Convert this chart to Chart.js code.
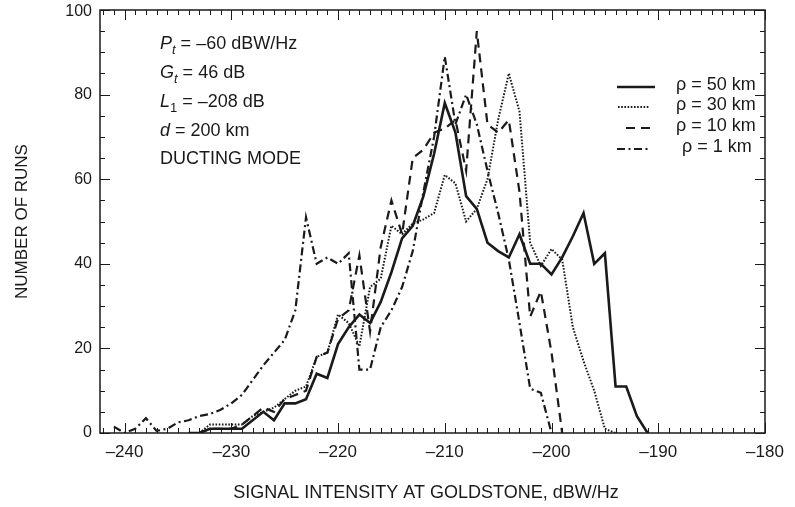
<!DOCTYPE html>
<html>
<head>
    <title>Number of runs vs signal intensity at Goldstone</title>
    <meta charset="UTF-8">
    <script src="https://cdn.jsdelivr.net/npm/chart.js@4.4.0/dist/chart.umd.min.js"></script>
    <style>
        html, body { margin: 0; padding: 0; background: #fff; }
        #wrap { width: 795px; height: 507px; }
    </style>
</head>
<body>
    <div id="wrap"><canvas id="runsChart" width="795" height="507"></canvas></div>

    <script>
        // signal intensity bins (dBW/Hz), one value per 1 dB
        const signalDb = [-242, -241, -240, -239, -238, -237, -236, -235, -234, -233,
                          -232, -231, -230, -229, -228, -227, -226, -225, -224, -223,
                          -222, -221, -220, -219, -218, -217, -216, -215, -214, -213,
                          -212, -211, -210, -209, -208, -207, -206, -205, -204, -203,
                          -202, -201, -200, -199, -198, -197, -196, -195, -194, -193,
                          -192, -191];

        // number of runs per bin (null = no curve there)
        const runs50km = [null, null, null, null, null, null, null, null, 0, 0,
                          1, 1, 1, 1, 3, 5, 3, 7, 7, 8,
                          14, 13, 21, 25, 28, 26, 31, 38, 46, 49,
                          56, 66, 78, 71, 56, 53, 45, 43, 41.5, 47,
                          40, 40, 37.5, 41.5, 46.5, 52, 40, 42.5, 11, 11,
                          4, 0];
        const runs30km = [null, null, null, null, null, null, null, null, null, 0,
                          2, 2, 2, 2, 4, 5, 6, 8, 10, 11,
                          18, 19, 28, 26, 20.5, 34.5, 36.5, 49, 47, 49.5,
                          50.5, 52, 61, 59, 50, 53, 60, 74, 85, 76,
                          45, 39.5, 43.5, 41, 25, 17, 10, 1, 0, null,
                          null, null];
        const runs10km = [null, null, null, null, null, null, null, null, null, 0,
                          1, 1, 1, 2, 4, 6, 5, 8, 9, 10,
                          18, 19, 27, 29, 42, 24, 44, 55, 47, 65,
                          67, 71, 72, 74, 62, 95, 73, 71, 74, 57,
                          27.5, 33.5, 19, 0, null, null, null, null, null, null,
                          null, null];
        const runs1km  = [null, 1.5, 0, 1, 3.5, 0.5, 1, 2.5, 3, 4,
                          4.5, 5.5, 7, 9, 12.5, 16, 19, 22, 29, 51,
                          40, 41.5, 40, 42.5, 15, 15, 25, 29, 34.5, 43,
                          57, 70, 89, 73, 80, 73, 62, 52, 41, 26,
                          10.5, 9.5, 0, null, null, null, null, null, null, null,
                          null, null];

        const seriesLabels = ['\u03C1 = 50 km', '\u03C1 = 30 km', '\u03C1 = 10 km', '\u03C1 = 1 km'];

        const xTickLabels = [-240, -230, -220, -210, -200, -190, -180];
        const yTickLabels = [0, 20, 40, 60, 80, 100];

        const FONT = "'Liberation Sans', Arial, Helvetica, sans-serif";
        const INK = '#1a1a1a';

        function toPoints(values) {
            return signalDb
                .map((db, i) => ({ x: db, y: values[i] }))
                .filter(p => p.y !== null);
        }

        // frame, inward tick marks and y labels
        const framePlugin = {
            id: 'frame',
            afterDatasetsDraw(chart) {
                const { ctx, chartArea: a, scales: { x, y } } = chart;
                ctx.save();
                ctx.strokeStyle = INK;
                ctx.lineWidth = 1.5;
                ctx.strokeRect(a.left, a.top, a.right - a.left, a.bottom - a.top);

                ctx.lineWidth = 1;
                ctx.beginPath();
                for (let v = Math.ceil(x.min); v <= x.max; v++) {
                    const px = Math.round(x.getPixelForValue(v)) + 0.5;
                    const len = v % 10 === 0 ? 10 : 5;
                    ctx.moveTo(px, a.bottom); ctx.lineTo(px, a.bottom - len);
                    ctx.moveTo(px, a.top); ctx.lineTo(px, a.top + len);
                }
                for (let v = 0; v <= 100; v += 5) {
                    const py = Math.round(y.getPixelForValue(v)) + 0.5;
                    const len = v % 20 === 0 ? 10 : 5;
                    ctx.moveTo(a.left, py); ctx.lineTo(a.left + len, py);
                    ctx.moveTo(a.right, py); ctx.lineTo(a.right - len, py);
                }
                ctx.stroke();

                ctx.fillStyle = INK;
                ctx.font = '16px ' + FONT;
                ctx.textAlign = 'right';
                ctx.textBaseline = 'middle';
                yTickLabels.forEach(v => {
                    let py = y.getPixelForValue(v);
                    py = Math.max(py, a.top + 2);
                    ctx.fillText(String(v), a.left - 8, py);
                });

                // x axis title, sits a little left of the axis centre in the original
                ctx.textAlign = 'center';
                ctx.font = '18px ' + FONT;
                ctx.fillText('SIGNAL INTENSITY AT GOLDSTONE, dBW/Hz', 426, 493);
                ctx.restore();
            }
        };

        // legend in the upper right, using the dataset line styles
        const legendPlugin = {
            id: 'innerLegend',
            afterDatasetsDraw(chart) {
                const ctx = chart.ctx;
                const rows = [85, 105, 126, 147];
                const samples = [[617, 655], [618, 650], [626, 650], [617, 651]];
                ctx.save();
                chart.data.datasets.forEach((ds, i) => {
                    ctx.strokeStyle = ds.borderColor;
                    ctx.lineWidth = ds.borderWidth;
                    ctx.setLineDash(ds.borderDash || []);
                    ctx.beginPath();
                    ctx.moveTo(samples[i][0], rows[i] + 2);
                    ctx.lineTo(samples[i][1], rows[i] + 2);
                    ctx.stroke();
                    ctx.setLineDash([]);
                    ctx.fillStyle = INK;
                    ctx.font = '18px ' + FONT;
                    ctx.textAlign = 'left';
                    ctx.textBaseline = 'middle';
                    ctx.fillText(ds.label, i === 3 ? 682 : 676, rows[i]);
                });
                ctx.restore();
            }
        };

        // parameter block in the upper left
        function drawRuns(ctx, x, y, parts) {
            parts.forEach(p => {
                const size = p.sub ? 13 : 18;
                ctx.font = (p.italic ? 'italic ' : '') + size + 'px ' + FONT;
                ctx.fillText(p.t, x, y + (p.sub ? 5 : 0));
                x += ctx.measureText(p.t).width;
            });
        }

        const notePlugin = {
            id: 'notes',
            afterDatasetsDraw(chart) {
                const ctx = chart.ctx;
                ctx.save();
                ctx.fillStyle = INK;
                ctx.textAlign = 'left';
                ctx.textBaseline = 'alphabetic';
                const x0 = 160;
                drawRuns(ctx, x0, 49, [{ t: 'P', italic: true }, { t: 't', italic: true, sub: true }, { t: ' = \u201360 dBW/Hz' }]);
                drawRuns(ctx, x0, 78, [{ t: 'G', italic: true }, { t: 't', italic: true, sub: true }, { t: ' = 46 dB' }]);
                drawRuns(ctx, x0, 107, [{ t: 'L', italic: true }, { t: '1', sub: true }, { t: ' = \u2013208 dB' }]);
                drawRuns(ctx, x0, 136, [{ t: 'd', italic: true }, { t: ' = 200 km' }]);
                drawRuns(ctx, x0, 164, [{ t: 'DUCTING MODE' }]);
                ctx.restore();
            }
        };

        const lineStyle = (values, label, dash, width) => ({
            label: label,
            data: toPoints(values),
            borderColor: INK,
            borderWidth: width,
            borderDash: dash,
            pointRadius: 0,
            tension: 0,
            fill: false
        });

        new Chart(document.getElementById('runsChart'), {
            type: 'line',
            data: {
                datasets: [
                    lineStyle(runs50km, seriesLabels[0], [], 2.6),
                    lineStyle(runs30km, seriesLabels[1], [1.6, 1.6], 2),
                    lineStyle(runs10km, seriesLabels[2], [9, 6], 2.2),
                    lineStyle(runs1km, seriesLabels[3], [8, 3.5, 2, 3.5], 2.2)
                ]
            },
            options: {
                responsive: false,
                animation: false,
                layout: { padding: { top: 10, right: 30, left: 0, bottom: 0 } },
                plugins: {
                    legend: { display: false },
                    tooltip: { enabled: false }
                },
                scales: {
                    x: {
                        type: 'linear',
                        min: -242.3,
                        max: -180,
                        afterBuildTicks: s => { s.ticks = xTickLabels.map(v => ({ value: v })); },
                        afterFit: s => { s.height = 74; },
                        grid: { display: false, drawTicks: false },
                        border: { display: false },
                        ticks: {
                            padding: 9,
                            color: INK,
                            font: { family: FONT, size: 17 },
                            maxRotation: 0,
                            callback: v => (v < 0 ? '\u2013' : '') + Math.abs(v)
                        },
                        title: { display: false }
                    },
                    y: {
                        min: 0,
                        max: 100,
                        afterFit: s => { s.width = 100; },
                        grid: { display: false, drawTicks: false },
                        border: { display: false },
                        ticks: { display: false },
                        title: {
                            display: true,
                            text: 'NUMBER OF RUNS',
                            color: INK,
                            font: { family: FONT, size: 17 },
                            padding: { top: 12 }
                        }
                    }
                }
            },
            plugins: [framePlugin, legendPlugin, notePlugin]
        });
    </script>
</body>
</html>
